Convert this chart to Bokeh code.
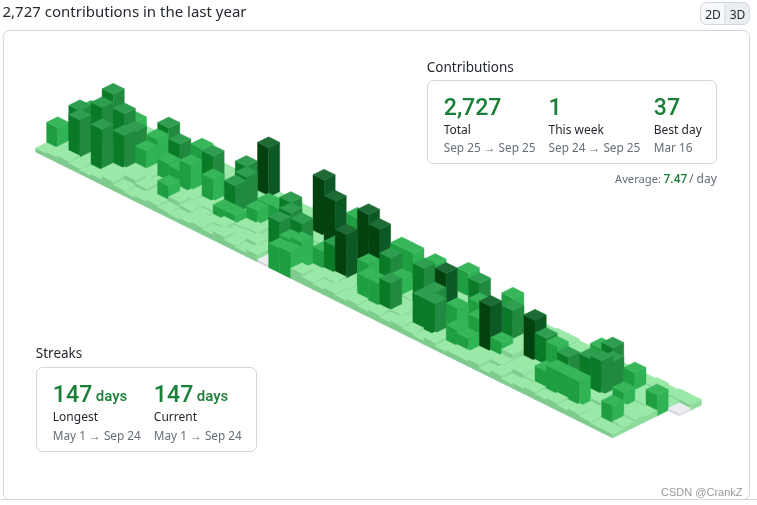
from bokeh.plotting import figure
from bokeh.models import Range1d
from bokeh.core.properties import value
from bokeh.embed import file_html
from bokeh.resources import INLINE

# contributions per day: one list per week, Sunday first
week_counts = [
    [2,1,14,2,1,14,1],[1,25,2,16,25,2,2],[2,2,1,27,2,26,3],[1,14,23,2,1,2,2],
    [2,1,2,1,2,27,1],[1,2,2,22,23,2,2],[2,21,17,13,2,3,4],[1,2,1,2,2,5,2],
    [2,1,21,12,1,3,1],[1,18,2,11,3,1,2],[2,1,2,18,1,12,3],[1,2,24,2,3,5,2],
    [2,1,1,16,2,3,1],[1,21,2,2,3,2,2],[33,2,21,19,7,1,3],[1,2,2,1,7,3,2],
    [2,1,11,10,2,1,4],[1,2,11,1,3,2,2],[2,1,19,2,1,3,1],[1,2,2,19,2,2,3],
    [2,37,1,2,1,24,0],[1,2,2,1,23,16,14],[16,1,34,2,2,18,15],[1,2,1,2,12,1,5],
    [2,1,2,1,19,2,3],[1,2,36,2,30,3,2],[2,1,30,1,2,2,3],[1,18,2,2,18,1,2],
    [2,18,1,22,1,16,3],[1,2,2,12,2,16,2],[2,18,1,2,1,20,3],[1,2,2,26,2,3,2],
    [16,1,1,2,1,2,3],[1,2,2,30,21,21,2],[2,20,1,2,3,21,1],[1,2,14,1,18,2,3],
    [14,1,2,2,1,11,1],[1,2,1,2,18,9,2],[2,1,20,1,30,1,2],[1,14,2,2,10,2,3],
    [2,1,1,2,6,3,1],[2,2,2,28,2,2,3],[1,1,1,20,3,4,1],[2,6,2,18,2,3,2],
    [1,2,1,2,1,13,3],[2,17,2,2,22,17,2],[1,21,2,21,1,17,3],[2,1,19,23,2,17,2],
    [1,12,2,1,3,1,3],[2,1,1,10,1,2,2],[1,2,2,1,3,12,1],[2,1,12,2,3,2,1],
    [2,0],
]
title_text = "2,727 contributions in the last year"
contrib_values = ["2,727", "1", "37"]
contrib_labels = ["Total", "This week", "Best day"]
contrib_dates = ["Sep 25 \u2192 Sep 25", "Sep 24 \u2192 Sep 25", "Mar 16"]
streak_values = ["147", "147"]
streak_labels = ["Longest", "Current"]
streak_dates = ["May 1 \u2192 Sep 24", "May 1 \u2192 Sep 24"]

TOP = ["#ebedf0", "#9be9a8", "#38b75a", "#2f9e50", "#1e6b35"]
LEFT = ["#d3d5d8", "#7fca8e", "#1f9e41", "#0b7a27", "#03420f"]
RIGHT = ["#dfe1e4", "#8ddb9b", "#2fb355", "#218a3e", "#0c5926"]

def level(c):
    if c == 0: return 0
    if c <= 6: return 1
    if c <= 18: return 2
    if c <= 27: return 3
    return 4

OX, OY, UNIT_X, UNIT_Y = 35.0, 151.5, 11.1, 5.5
def pt(u, v, h=0.0):
    return OX + UNIT_X * (u + v), OY + UNIT_Y * (u - v) - h

p = figure(width=757, height=505, output_backend="svg", toolbar_location=None,
           x_range=Range1d(0, 757), y_range=Range1d(505, 0),
           x_axis_type=None, y_axis_type=None, min_border=0,
           outline_line_color=None, background_fill_color="white",
           styles={"position": "fixed", "left": "0px", "top": "0px"})
p.grid.visible = False

def box(l, r, t, b, radius, fill="white", line="#d0d7de"):
    p.quad(left=[l], right=[r], top=[t], bottom=[b], fill_color=fill,
           line_color=line, line_width=1, border_radius=radius)

def label(base, x, text, size, color, font="Noto Sans", align="left", style="normal"):
    p.text(x=[x], y=[base - 0.36 * size], text=[text], text_font=value(font), text_font_size=f"{size}px",
           text_color=color, text_font_style=style, text_baseline="middle", text_align=align)

# outer card
box(3, 749, 30, 499, 6)
p.line([0, 757], [499, 499], line_color="#d0d7de", line_width=1)

# cubes, drawn back to front
xs, ys, fills = [], [], []
for w, days in enumerate(week_counts):
    for d, c in enumerate(days):
        u, v = w, 6 - d
        h = 2.5 + 1.55 * c
        lv = level(c)
        faces = [
            ([(u, v, 0), (u + 1, v, 0), (u + 1, v, h), (u, v, h)], LEFT[lv]),
            ([(u + 1, v, 0), (u + 1, v + 1, 0), (u + 1, v + 1, h), (u + 1, v, h)], RIGHT[lv]),
            ([(u, v, h), (u + 1, v, h), (u + 1, v + 1, h), (u, v + 1, h)], TOP[lv]),
        ]
        for pts, col in faces:
            q = [pt(*a) for a in pts]
            xs.append([a[0] for a in q]); ys.append([a[1] for a in q]); fills.append(col)
p.patches(xs, ys, fill_color=fills, line_color=fills, line_width=0.4)

# header
label(15.5, 2, title_text, 15, "#24292f")
box(700, 749, 2, 24, 6, fill="#f6f8fa")
p.quad(left=[725], right=[748.5], top=[2.5], bottom=[23.5], fill_color="#eaeef2", line_color=None, border_radius=5)
p.line([724.5, 724.5], [2, 24], line_color="#d0d7de", line_width=1)
label(18, 712.5, "2D", 12, "#24292f", align="center")
label(18, 737, "3D", 12, "#24292f", align="center")

# contributions card
label(71, 426.3, "Contributions", 13.5, "#24292f")
box(427, 716, 80, 163, 6)
for x, a, b, c in zip([443.2, 548, 653.3], contrib_values, contrib_labels, contrib_dates):
    label(114, x, a, 23.2, "#1a7f37", font="Roboto Medium")
    label(133, x, b, 12, "#24292f")
    label(151, x, c, 11.8, "#656d76")
label(182, 614.5, "Average:", 11.2, "#656d76")
label(182, 663, "7.47", 12, "#1a7f37", font="Roboto Medium")
label(182, 688.5, "/ day", 12, "#656d76")

# streaks card
label(357, 35.3, "Streaks", 13.5, "#24292f")
box(36, 256, 367, 451, 6)
for x, a, b, c in zip([52.3, 153.3], streak_values, streak_labels, streak_dates):
    label(401, x, a, 23.2, "#1a7f37", font="Roboto Medium")
    label(401, x + 43, "days", 15, "#1a7f37", font="Roboto Medium")
    label(420, x, b, 12, "#24292f")
    label(438.5, x, c, 11.8, "#656d76")

label(495, 742, "CSDN @CrankZ", 11, "#9a9a9a", font="Liberation Sans", align="right")

open("out.html", "w").write(file_html(p, INLINE))
